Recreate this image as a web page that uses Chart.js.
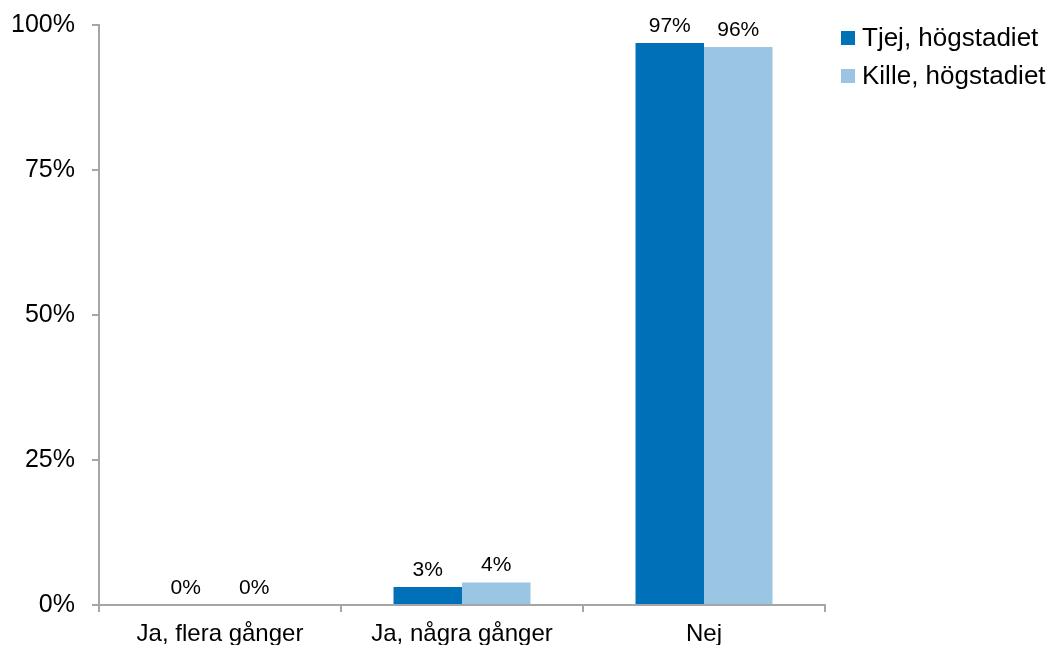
<!DOCTYPE html>
<html>
<head>
<meta charset="utf-8">
<script src="https://cdn.jsdelivr.net/npm/chart.js@4.4.1/dist/chart.umd.min.js"></script>
<style>
  html, body { margin: 0; padding: 0; background: #fff; overflow: hidden; }
  #wrap { width: 1051px; height: 650px; position: relative; }
</style>
</head>
<body>
<div id="wrap"><canvas id="myChart"></canvas></div>
<script>
var categories = ['Ja, flera gånger', 'Ja, några gånger', 'Nej'];
var seriesNames = ['Tjej, högstadiet', 'Kille, högstadiet'];
var tjej = [0, 3.1, 96.9];
var kille = [0, 3.9, 96.2];
var yTicks = [0, 25, 50, 75, 100];
var colors = ['#0070b8', '#9ac5e3'];

var FONT = "'Liberation Sans', Arial, sans-serif";
var axisGray = '#a6a6a6';

// value labels above the bars
var barLabels = {
  id: 'barLabels',
  afterDatasetsDraw: function(chart) {
    var ctx = chart.ctx;
    ctx.save();
    ctx.font = '21px ' + FONT;
    ctx.fillStyle = '#000';
    ctx.textAlign = 'center';
    ctx.textBaseline = 'middle';
    chart.data.datasets.forEach(function(ds, i) {
      chart.getDatasetMeta(i).data.forEach(function(bar, j) {
        ctx.fillText(Math.round(ds.data[j]) + '%', bar.x, bar.y - 17);
      });
    });
    ctx.restore();
  }
};

// legend to the right of the plot
var sideLegend = {
  id: 'sideLegend',
  afterDraw: function(chart) {
    var ctx = chart.ctx;
    var x = chart.chartArea.right + 16;
    var y = chart.chartArea.top + 13;
    ctx.save();
    ctx.font = '26px ' + FONT;
    ctx.textBaseline = 'middle';
    ctx.textAlign = 'left';
    chart.data.datasets.forEach(function(ds, i) {
      var cy = y + i * 38;
      ctx.fillStyle = ds.backgroundColor;
      ctx.fillRect(x, cy - 7, 14, 14);
      ctx.fillStyle = '#000';
      ctx.fillText(ds.label, x + 21, cy + 1);
    });
    ctx.restore();
  }
};

var ctx = document.getElementById('myChart');

var myChart = new Chart(ctx, {
  type: 'bar',
  data: {
    labels: categories,
    datasets: [{
      label: seriesNames[0],
      data: tjej,
      backgroundColor: colors[0],
      borderWidth: 0
    }, {
      label: seriesNames[1],
      data: kille,
      backgroundColor: colors[1],
      borderWidth: 0
    }]
  },
  options: {
    responsive: true,
    maintainAspectRatio: false,
    animation: false,
    datasets: {
      bar: { barPercentage: 1.0, categoryPercentage: 0.566 }
    },
    layout: {
      padding: { left: 0, right: 226, top: 25, bottom: 0 }
    },
    plugins: {
      legend: { display: false },
      tooltip: { enabled: false }
    },
    scales: {
      x: {
        offset: true,
        afterFit: function(axis) { axis.height = 45; },
        grid: {
          offset: true,
          drawOnChartArea: false,
          drawTicks: true,
          tickLength: 7,
          color: axisGray,
          lineWidth: 2
        },
        border: { color: axisGray, width: 2 },
        ticks: {
          color: '#000',
          font: { family: FONT, size: 24 },
          padding: 8,
          maxRotation: 0
        }
      },
      y: {
        min: 0,
        max: 100,
        afterFit: function(axis) {
          axis.width = 99;
          axis.paddingTop = 0;
          axis.paddingBottom = 0;
        },
        afterBuildTicks: function(axis) {
          axis.ticks = yTicks.map(function(v) { return { value: v }; });
        },
        grid: {
          drawOnChartArea: false,
          drawTicks: true,
          tickLength: 7,
          color: axisGray,
          lineWidth: 2
        },
        border: { color: axisGray, width: 2 },
        ticks: {
          color: '#000',
          font: { family: FONT, size: 25 },
          padding: 17,
          callback: function(v) { return v + '%'; }
        }
      }
    }
  },
  plugins: [barLabels, sideLegend]
});
</script>
</body>
</html>
